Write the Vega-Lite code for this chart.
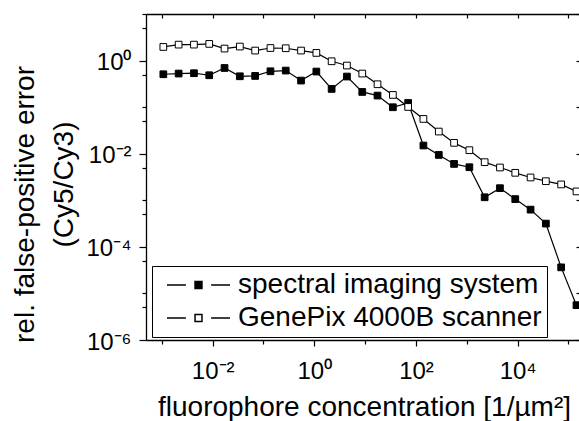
{
  "$schema": "https://vega.github.io/schema/vega-lite/v6.json",
  "width": 433,
  "height": 326,
  "autosize": "none",
  "padding": {"left": 146, "top": 14, "right": 0, "bottom": 81},
  "config": {
    "font": "Liberation Sans",
    "view": {"stroke": null},
    "axis": {
      "grid": false,
      "domainColor": "black",
      "domainWidth": 1.3,
      "tickColor": "black",
      "tickWidth": 1.2,
      "labelColor": "black",
      "titleColor": "black",
      "labelFont": "Liberation Sans",
      "titleFont": "Liberation Sans",
      "titleFontWeight": "normal",
      "labelFontSize": 24,
      "titleFontSize": 28
    }
  },
  "data": {
    "values": [
      {"series": "spectral imaging system", "conc": 0.00107, "err": 0.508},
      {"series": "spectral imaging system", "conc": 0.00214, "err": 0.526},
      {"series": "spectral imaging system", "conc": 0.00428, "err": 0.535},
      {"series": "spectral imaging system", "conc": 0.00856, "err": 0.484},
      {"series": "spectral imaging system", "conc": 0.01712, "err": 0.693},
      {"series": "spectral imaging system", "conc": 0.03424, "err": 0.460},
      {"series": "spectral imaging system", "conc": 0.06848, "err": 0.468},
      {"series": "spectral imaging system", "conc": 0.137, "err": 0.589},
      {"series": "spectral imaging system", "conc": 0.274, "err": 0.610},
      {"series": "spectral imaging system", "conc": 0.548, "err": 0.372},
      {"series": "spectral imaging system", "conc": 1.096, "err": 0.581},
      {"series": "spectral imaging system", "conc": 2.19, "err": 0.246},
      {"series": "spectral imaging system", "conc": 4.38, "err": 0.454},
      {"series": "spectral imaging system", "conc": 8.77, "err": 0.212},
      {"series": "spectral imaging system", "conc": 17.5, "err": 0.177},
      {"series": "spectral imaging system", "conc": 35.1, "err": 0.0995},
      {"series": "spectral imaging system", "conc": 70.1, "err": 0.123},
      {"series": "spectral imaging system", "conc": 140, "err": 0.0150},
      {"series": "spectral imaging system", "conc": 281, "err": 0.00942},
      {"series": "spectral imaging system", "conc": 561, "err": 0.00604},
      {"series": "spectral imaging system", "conc": 1122, "err": 0.00513},
      {"series": "spectral imaging system", "conc": 2244, "err": 0.00116},
      {"series": "spectral imaging system", "conc": 4488, "err": 0.00182},
      {"series": "spectral imaging system", "conc": 8976, "err": 0.00106},
      {"series": "spectral imaging system", "conc": 17952, "err": 0.00063},
      {"series": "spectral imaging system", "conc": 35905, "err": 0.000316},
      {"series": "spectral imaging system", "conc": 71810, "err": 0.0000363},
      {"series": "spectral imaging system", "conc": 143620, "err": 0.0000056},
      {"series": "GenePix 4000B scanner", "conc": 0.00107, "err": 1.96},
      {"series": "GenePix 4000B scanner", "conc": 0.00214, "err": 2.20},
      {"series": "GenePix 4000B scanner", "conc": 0.00428, "err": 2.20},
      {"series": "GenePix 4000B scanner", "conc": 0.00856, "err": 2.28},
      {"series": "GenePix 4000B scanner", "conc": 0.01712, "err": 1.81},
      {"series": "GenePix 4000B scanner", "conc": 0.03424, "err": 2.00},
      {"series": "GenePix 4000B scanner", "conc": 0.06848, "err": 1.64},
      {"series": "GenePix 4000B scanner", "conc": 0.137, "err": 1.86},
      {"series": "GenePix 4000B scanner", "conc": 0.274, "err": 1.84},
      {"series": "GenePix 4000B scanner", "conc": 0.548, "err": 1.64},
      {"series": "GenePix 4000B scanner", "conc": 1.096, "err": 1.46},
      {"series": "GenePix 4000B scanner", "conc": 2.19, "err": 0.966},
      {"series": "GenePix 4000B scanner", "conc": 4.38, "err": 0.782},
      {"series": "GenePix 4000B scanner", "conc": 8.77, "err": 0.526},
      {"series": "GenePix 4000B scanner", "conc": 17.5, "err": 0.310},
      {"series": "GenePix 4000B scanner", "conc": 35.1, "err": 0.183},
      {"series": "GenePix 4000B scanner", "conc": 70.1, "err": 0.101},
      {"series": "GenePix 4000B scanner", "conc": 140, "err": 0.0558},
      {"series": "GenePix 4000B scanner", "conc": 281, "err": 0.0299},
      {"series": "GenePix 4000B scanner", "conc": 561, "err": 0.0171},
      {"series": "GenePix 4000B scanner", "conc": 1122, "err": 0.0119},
      {"series": "GenePix 4000B scanner", "conc": 2244, "err": 0.00658},
      {"series": "GenePix 4000B scanner", "conc": 4488, "err": 0.00506},
      {"series": "GenePix 4000B scanner", "conc": 8976, "err": 0.00389},
      {"series": "GenePix 4000B scanner", "conc": 17952, "err": 0.00309},
      {"series": "GenePix 4000B scanner", "conc": 35905, "err": 0.00257},
      {"series": "GenePix 4000B scanner", "conc": 71810, "err": 0.00219},
      {"series": "GenePix 4000B scanner", "conc": 143620, "err": 0.00155}
    ]
  },
  "resolve": {"axis": {"x": "independent", "y": "independent"}},
  "layer": [
    {
      "mark": {"type": "line", "color": "black", "strokeWidth": 1.2},
      "encoding": {
        "x": {
          "field": "conc", "type": "quantitative",
          "scale": {"type": "log", "domain": [0.000488, 161100], "nice": false},
          "axis": {
            "orient": "bottom",
            "values": [0.001, 0.01, 0.1, 1, 10, 100, 1000, 10000, 100000],
            "labelExpr": "datum.value == 0.01 ? '10⁻²' : datum.value == 1 ? '10⁰' : datum.value == 100 ? '10²' : datum.value == 10000 ? '10⁴' : ''",
            "tickSize": {"condition": {"test": "datum.value == 0.01 || datum.value == 1 || datum.value == 100 || datum.value == 10000", "value": 6}, "value": 4},
            "labelBaseline": "alphabetic",
            "labelPadding": 32,
            "labelFlush": false,
            "labelOverlap": false,
            "title": "fluorophore concentration [1/µm²]",
            "titleX": 218,
            "titleY": 75,
            "titleBaseline": "alphabetic",
            "titleAlign": "center"
          }
        },
        "y": {
          "field": "err", "type": "quantitative",
          "scale": {"type": "log", "domain": [0.000001, 10], "nice": false},
          "axis": {
            "orient": "left",
            "values": [0.000001, 0.000005, 0.00001, 0.00005, 0.0001, 0.0005, 0.001, 0.005, 0.01, 0.05, 0.1, 0.5, 1, 5, 10],
            "labelExpr": "datum.value == 1 ? '10⁰' : datum.value == 0.01 ? '10⁻²' : datum.value == 0.0001 ? '10⁻⁴' : datum.value == 0.000001 ? '10⁻⁶' : ''",
            "tickSize": {"condition": {"test": "datum.value == 1 || datum.value == 0.01 || datum.value == 0.0001 || datum.value == 0.000001", "value": 7}, "value": 4},
            "labelBaseline": "middle",
            "labelPadding": 8,
            "labelOffset": 2,
            "labelFlush": false,
            "labelOverlap": false,
            "title": "rel. false-positive error",
            "titleX": -113,
            "titleY": 190,
            "titleAngle": -90,
            "titleBaseline": "alphabetic",
            "titleAlign": "center"
          }
        },
        "detail": {"field": "series", "type": "nominal"}
      }
    },
    {
      "transform": [{"filter": "datum.series == 'spectral imaging system'"}],
      "mark": {"type": "point", "shape": "square", "filled": true, "stroke": "black", "strokeWidth": 1, "size": 45, "opacity": 1},
      "encoding": {
        "x": {
          "field": "conc", "type": "quantitative",
          "scale": {"type": "log", "domain": [0.000488, 161100], "nice": false},
          "axis": {
            "orient": "top",
            "values": [0.001, 0.01, 0.1, 1, 10, 100, 1000, 10000, 100000],
            "tickSize": -4,
            "labels": false,
            "title": null
          }
        },
        "y": {
          "field": "err", "type": "quantitative",
          "scale": {"type": "log", "domain": [0.000001, 10], "nice": false},
          "axis": {
            "orient": "right",
            "values": [0.000001, 0.00001, 0.0001, 0.001, 0.01, 0.1, 1, 10],
            "tickSize": -3,
            "domain": false,
            "labels": false,
            "title": null
          }
        },
        "fill": {
          "field": "series", "type": "nominal",
          "scale": {"domain": ["spectral imaging system", "GenePix 4000B scanner"], "range": ["black", "white"]},
          "legend": {
            "orient": "none",
            "legendX": 6,
            "legendY": 252,
            "title": null,
            "symbolType": "M-1,0H-0.4M0.4,0H1M-0.11,-0.11H0.11V0.11H-0.11Z",
            "symbolSize": 3969,
            "symbolStrokeColor": "black",
            "symbolStrokeWidth": 1.5,
            "clipHeight": 28,
            "labelFontSize": 28,
            "labelFont": "Liberation Sans",
            "labelColor": "black",
            "labelLimit": 600,
            "labelOffset": 7,
            "symbolOffset": 9,
            "padding": 5,
            "rowPadding": 5,
            "strokeColor": "black"
          }
        }
      }
    },
    {
      "transform": [{"filter": "datum.series == 'GenePix 4000B scanner'"}],
      "mark": {"type": "point", "shape": "square", "filled": true, "stroke": "black", "strokeWidth": 1, "size": 45, "opacity": 1},
      "encoding": {
        "x": {
          "field": "conc", "type": "quantitative",
          "scale": {"type": "log", "domain": [0.000488, 161100], "nice": false},
          "axis": null
        },
        "y": {
          "field": "err", "type": "quantitative",
          "scale": {"type": "log", "domain": [0.000001, 10], "nice": false},
          "axis": {
            "orient": "left",
            "domain": false,
            "ticks": false,
            "labels": false,
            "title": "(Cy5/Cy3)",
            "titleX": -74,
            "titleY": 170,
            "titleAngle": -90,
            "titleBaseline": "alphabetic",
            "titleAlign": "center"
          }
        },
        "fill": {
          "field": "series", "type": "nominal",
          "scale": {"domain": ["spectral imaging system", "GenePix 4000B scanner"], "range": ["black", "white"]}
        }
      }
    }
  ]
}
